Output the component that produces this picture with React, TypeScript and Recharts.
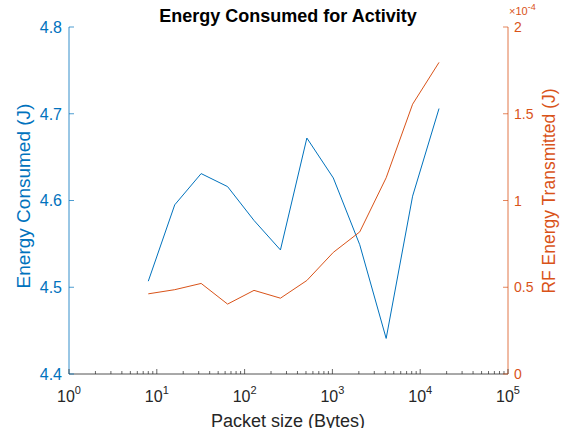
import React from 'react';
import { LineChart, Line, XAxis, YAxis, Customized } from 'recharts';

const packetSizes = [8, 16, 32, 64, 128, 256, 512, 1024, 2048, 4096, 8192, 16384];
const energyConsumed = [4.507, 4.595, 4.631, 4.616, 4.577, 4.543, 4.672, 4.626, 4.549, 4.441, 4.605, 4.706];
const rfEnergyTransmitted = [0.462e-4, 0.486e-4, 0.522e-4, 0.403e-4, 0.482e-4, 0.437e-4, 0.539e-4, 0.701e-4, 0.819e-4, 1.131e-4, 1.555e-4, 1.796e-4];

const decades = [1, 10, 100, 1000, 10000, 100000];
const decadeExponents = ['0', '1', '2', '3', '4', '5'];
const minorMultipliers = [2, 3, 4, 5, 6, 7, 8, 9];

const leftTicks = [4.4, 4.5, 4.6, 4.7, 4.8];
const leftTickLabels = ['4.4', '4.5', '4.6', '4.7', '4.8'];
const rightTicks = [0, 0.5e-4, 1e-4, 1.5e-4, 2e-4];
const rightTickLabels = ['0', '0.5', '1', '1.5', '2'];

const data = packetSizes.map((s, i) => ({ size: s, energy: energyConsumed[i], rf: rfEnergyTransmitted[i] }));
const xTicks = [
  ...decades,
  ...decades.slice(0, 5).flatMap((d) => minorMultipliers.map((m) => m * d)),
].sort((a, b) => a - b);

const BLUE = '#0072BD';
const ORANGE = '#D95319';
const DARK = '#262626';
const FONT = '"Liberation Sans", Arial, Helvetica, sans-serif';

const BottomTick = (props: any) => {
  const { x, y, payload } = props;
  const idx = decades.indexOf(payload.value);
  const major = idx >= 0;
  return (
    <g>
      <line x1={x} x2={x} y1={y} y2={y - (major ? 5 : 3)} stroke={DARK} strokeWidth={0.7} />
      {major && (
        <text x={x} y={y + 28} textAnchor="middle" fill={DARK} fontSize={16} fontFamily={FONT}>
          <tspan>10</tspan>
          <tspan dy={-8} fontSize={11}>{decadeExponents[idx]}</tspan>
        </text>
      )}
    </g>
  );
};

const TopTick = (props: any) => {
  const { x, y, payload } = props;
  const major = decades.indexOf(payload.value) >= 0;
  return <line x1={x} x2={x} y1={y} y2={y + (major ? 5 : 3)} stroke={DARK} strokeWidth={0.7} />;
};

const LeftTick = (props: any) => {
  const { x, y, index } = props;
  return (
    <g>
      <line x1={x} x2={x + 5} y1={y} y2={y} stroke={BLUE} strokeWidth={0.7} />
      <text x={x - 7} y={y} dy="0.36em" textAnchor="end" fill={BLUE} fontSize={16} fontFamily={FONT}>
        {leftTickLabels[index]}
      </text>
    </g>
  );
};

const RightTick = (props: any) => {
  const { x, y, index } = props;
  return (
    <g>
      <line x1={x} x2={x - 5} y1={y} y2={y} stroke={ORANGE} strokeWidth={0.7} />
      <text x={x + 6} y={y} dy="0.36em" textAnchor="start" fill={ORANGE} fontSize={14} fontFamily={FONT}>
        {rightTickLabels[index]}
      </text>
    </g>
  );
};

const Annotations = () => (
  <g fontFamily={FONT}>
    <text x={288} y={22} textAnchor="middle" fontWeight="bold" fontSize={18} fill="#000">
      Energy Consumed for Activity
    </text>
    <text x={288} y={427} textAnchor="middle" fontSize={18} fill={DARK}>
      Packet size (Bytes)
    </text>
    <text x={30} y={196} transform="rotate(-90, 30, 196)" textAnchor="middle" fontSize={19} fill={BLUE}>
      Energy Consumed (J)
    </text>
    <text x={555} y={191} transform="rotate(-90, 555, 191)" textAnchor="middle" fontSize={17.5} fill={ORANGE}>
      RF Energy Transmitted (J)
    </text>
    <text x={509} y={15} fontSize={11} fill={ORANGE}>
      <tspan>×10</tspan>
      <tspan dy={-5} fontSize={9}>-4</tspan>
    </text>
  </g>
);

export default function App() {
  return (
    <div style={{ position: 'absolute', left: 0, top: 0, width: 564, height: 428, background: '#fff' }}>
      <LineChart width={564} height={428} data={data} margin={{ top: 27, right: 0, bottom: 0, left: 0 }}>
        <XAxis
          xAxisId="b"
          dataKey="size"
          type="number"
          scale="log"
          domain={[1, 100000]}
          allowDataOverflow
          ticks={xTicks}
          interval={0}
          tick={<BottomTick />}
          tickLine={false}
          tickSize={0}
          tickMargin={0}
          height={54}
          axisLine={{ stroke: DARK, strokeWidth: 0.8 }}
        />
        <XAxis
          xAxisId="t"
          orientation="top"
          dataKey="size"
          type="number"
          scale="log"
          domain={[1, 100000]}
          allowDataOverflow
          ticks={xTicks}
          interval={0}
          tick={<TopTick />}
          tickLine={false}
          tickSize={0}
          tickMargin={0}
          height={0}
          axisLine={{ stroke: DARK, strokeWidth: 0.8 }}
        />
        <YAxis
          yAxisId="l"
          type="number"
          domain={[4.4, 4.8]}
          allowDataOverflow
          ticks={leftTicks}
          interval={0}
          tick={<LeftTick />}
          tickLine={false}
          tickSize={0}
          tickMargin={0}
          width={69}
          axisLine={{ stroke: BLUE, strokeWidth: 0.8 }}
        />
        <YAxis
          yAxisId="r"
          orientation="right"
          type="number"
          domain={[0, 2e-4]}
          allowDataOverflow
          ticks={rightTicks}
          interval={0}
          tick={<RightTick />}
          tickLine={false}
          tickSize={0}
          tickMargin={0}
          width={56}
          axisLine={{ stroke: ORANGE, strokeWidth: 0.8 }}
        />
        <Line xAxisId="b" yAxisId="l" type="linear" dataKey="energy" stroke={BLUE} strokeWidth={1} dot={false} isAnimationActive={false} />
        <Line xAxisId="b" yAxisId="r" type="linear" dataKey="rf" stroke={ORANGE} strokeWidth={1} dot={false} isAnimationActive={false} />
        <Customized component={Annotations} />
      </LineChart>
    </div>
  );
}
